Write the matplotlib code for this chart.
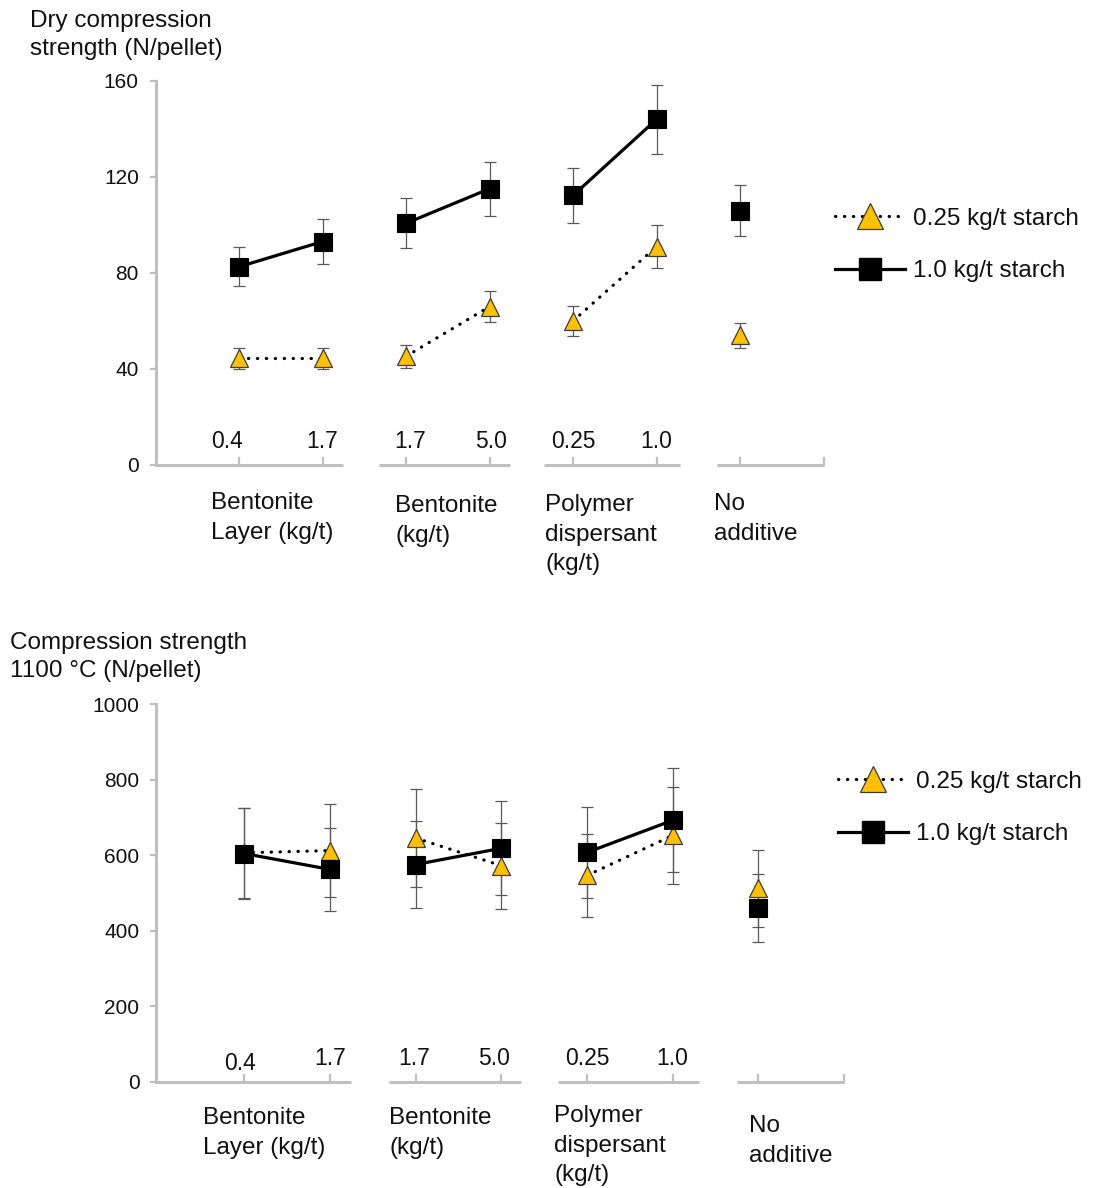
import matplotlib
matplotlib.use("Agg")
import matplotlib.pyplot as plt
from matplotlib.lines import Line2D
from matplotlib.transforms import offset_copy

plt.rcParams['font.family'] = ['Liberation Sans', 'DejaVu Sans']

# Categories: additive dosage at each point, grouped by additive type
tick_labels = ["0.4", "1.7", "1.7", "5.0", "0.25", "1.0", ""]
group_names = ["Bentonite\nLayer (kg/t)", "Bentonite\n(kg/t)",
               "Polymer\ndispersant\n(kg/t)", "No\nadditive"]
group_members = [[0, 1], [2, 3], [4, 5], [6]]
series_labels = ["0.25 kg/t starch", "1.0 kg/t starch"]

# Dry compression strength (N/pellet), mean and error
dry_low = [44.5, 44.5, 45.3, 66.0, 60.0, 91.0, 54.0]
dry_low_err = [4.4, 4.4, 4.7, 6.6, 6.1, 9.0, 5.2]
dry_high = [82.6, 93.1, 100.7, 115.1, 112.3, 144.0, 106.0]
dry_high_err = [8.1, 9.3, 10.4, 11.3, 11.5, 14.3, 10.6]

# Compression strength after firing at 1100 °C (N/pellet)
fired_low = [606, 612, 645, 572, 546, 652, 512]
fired_low_err = [119, 122, 130, 114, 109, 129, 102]
fired_high = [604, 562, 575, 618, 607, 692, 459]
fired_high_err = [121, 110, 114, 124, 120, 138, 90]

GOLD = "#FFC000"
AXIS_GRAY = "#BFBFBF"
ERR_GRAY = "#595959"
TEXT = "#111111"
FS = 17.5

fig = plt.figure(figsize=(10.93, 11.88), dpi=100)


def draw_panel(ax, low, low_err, high, high_err, ylim, yticks, segments,
               label_nudges, group_pos, group_y, xlim):
    x = list(range(len(low)))
    ax.set_xlim(*xlim)
    ax.set_ylim(*ylim)

    # error bars behind markers
    ax.errorbar(x, low, yerr=low_err, fmt="none", ecolor=ERR_GRAY,
                elinewidth=0.9, capsize=4, capthick=0.9, zorder=2)
    ax.errorbar(x, high, yerr=high_err, fmt="none", ecolor=ERR_GRAY,
                elinewidth=0.9, capsize=4, capthick=0.9, zorder=2)

    # connecting lines within each additive group
    for members in group_members:
        if len(members) > 1:
            ax.plot(members, [low[i] for i in members], color="black",
                    lw=2.3, linestyle=(0, (0.1, 2.7)),
                    dash_capstyle="round", zorder=3)
            ax.plot(members, [high[i] for i in members], color="black",
                    lw=2.3, solid_capstyle="butt", zorder=3)

    ax.plot(x, low, linestyle="none", marker="^", ms=13.5, mfc=GOLD,
            mec="#3b3b3b", mew=0.9, zorder=4)
    ax.plot(x, high, linestyle="none", marker="s", ms=12.5, mfc="black",
            mec="black", mew=0.8, zorder=5)

    # axes styling
    for side in ("top", "right", "bottom"):
        ax.spines[side].set_visible(False)
    ax.spines["left"].set_color(AXIS_GRAY)
    ax.spines["left"].set_linewidth(2.2)
    ax.set_yticks(yticks)
    ax.tick_params(axis="y", colors=AXIS_GRAY, length=4, width=1.6,
                   labelcolor=TEXT, labelsize=15, pad=8)
    ax.set_xticks([])

    # segmented category axis along the bottom
    xt = ax.get_xaxis_transform()
    for a, b in segments:
        ax.plot([a, b], [0, 0], transform=xt, color=AXIS_GRAY, lw=2.2,
                solid_capstyle="butt", clip_on=False, zorder=1)
    tick_h = 0.018
    for i in x:
        ax.plot([i, i], [0, tick_h], transform=xt, color=AXIS_GRAY, lw=1.6,
                clip_on=False, zorder=1)
    ax.plot([xlim[1], xlim[1]], [0, tick_h], transform=xt, color=AXIS_GRAY,
            lw=1.6, clip_on=False, zorder=1)

    # dosage labels above the category axis
    for i, lab in enumerate(tick_labels):
        if not lab:
            continue
        dx, dy = label_nudges.get(i, (0, 0))
        tr = offset_copy(xt, fig=fig, x=dx, y=dy, units="dots")
        ax.text(i, 0.062, lab, transform=tr, ha="center", va="center",
                fontsize=16.5, color=TEXT)

    # additive group names below the axis
    for name, (gx, gy) in zip(group_names, zip(group_pos, group_y)):
        ax.text(gx, gy, name, transform=xt, ha="left", va="top",
                fontsize=FS, color=TEXT, linespacing=1.45)


# ---- dry compression strength ----
ax1 = fig.add_axes([155.5 / 1093, 1 - 465 / 1188, 668 / 1093, 384 / 1188])
draw_panel(ax1, dry_low, dry_low_err, dry_high, dry_high_err,
           (0, 160), [0, 40, 80, 120, 160],
           [(-1.0, 1.25), (1.68, 3.25), (3.65, 5.28), (5.72, 7.0)],
           {0: (-12, 0), 2: (4, 0), 3: (2, 0)},
           [-0.33, 1.87, 3.67, 5.69], [-0.071, -0.079, -0.076, -0.074],
           (-1.0, 7.0))

fig.text(30 / 1093, 1 - 10 / 1188, "Dry compression\nstrength (N/pellet)",
         ha="left", va="top", fontsize=FS, color=TEXT, linespacing=1.38)

# ---- compression strength after firing ----
ax2 = fig.add_axes([156.1 / 1093, 1 - 1081.7 / 1188, 687.9 / 1093,
                    377.7 / 1188])
draw_panel(ax2, fired_low, fired_low_err, fired_high, fired_high_err,
           (0, 1000), [0, 200, 400, 600, 800, 1000],
           [(-1.03, 1.25), (1.69, 3.23), (3.66, 5.31), (5.75, 7.0)],
           {0: (-4, -5), 2: (-2, 0), 3: (-7, 0)},
           [-0.48, 1.69, 3.62, 5.89], [-0.068, -0.068, -0.062, -0.088],
           (-1.03, 7.0))

fig.text(10 / 1093, 1 - 632 / 1188, "Compression strength\n1100 °C (N/pellet)",
         ha="left", va="top", fontsize=FS, color=TEXT, linespacing=1.38)

# ---- legends ----
handles = [
    Line2D([], [], color="black", lw=2.3, linestyle=(0, (0.1, 2.7)),
           dash_capstyle="round", marker="^", ms=19, mfc=GOLD,
           mec="#3b3b3b", mew=0.9),
    Line2D([], [], color="black", lw=2.3, marker="s", ms=16, mfc="black",
           mec="black"),
]
for anchor_y, anchor_x in ((1 - 245 / 1188, 835 / 1093),
                           (1 - 808 / 1188, 838 / 1093)):
    fig.legend(handles, series_labels, loc="center left",
               bbox_to_anchor=(anchor_x, anchor_y),
               bbox_transform=fig.transFigure, frameon=False,
               fontsize=FS, handlelength=2.9, handletextpad=0.3,
               labelspacing=1.25, borderpad=0, borderaxespad=0, numpoints=1,
               labelcolor=TEXT)

fig.savefig("out.png", dpi=100, facecolor="white")
